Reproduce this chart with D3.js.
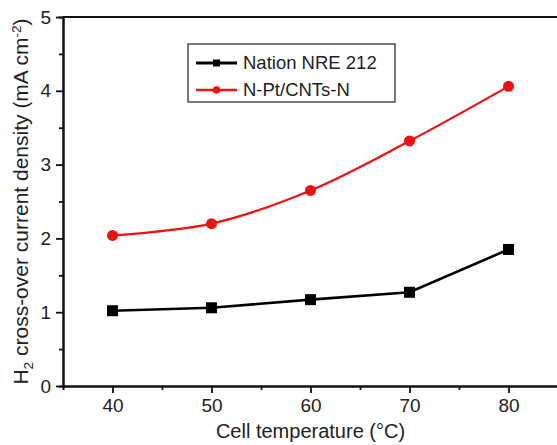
<!DOCTYPE html>
<html lang="en">
<head>
    <meta charset="UTF-8">
    <title>H2 cross-over</title>
    <script src="https://cdnjs.cloudflare.com/ajax/libs/d3/7.8.5/d3.min.js"></script>
    <style>
        body { margin: 0; background: #fff; }
        text { font-family: "Liberation Sans", Arial, sans-serif; fill: #222; }
    </style>
</head>
<body>
    <div id="wrapper"></div>
    <script>
        const temperatures = [40, 50, 60, 70, 80]
        const nafionValues = [1.02, 1.06, 1.17, 1.27, 1.85]
        const ptCntValues = [2.04, 2.20, 2.65, 3.32, 4.06]
        const seriesNames = ['Nation NRE 212', 'N-Pt/CNTs-N']
        const xTicks = [40, 50, 60, 70, 80]
        const yTicks = [0, 1, 2, 3, 4, 5]

        function drawChart() {
            const dimensions = {
                width: 557,
                height: 445,
                margin: { top: 17, right: 0, bottom: 59, left: 63 }
            }
            dimensions.boundedWidth = dimensions.width - dimensions.margin.left - dimensions.margin.right
            dimensions.boundedHeight = dimensions.height - dimensions.margin.top - dimensions.margin.bottom

            const svg = d3.select('#wrapper').append('svg')
                .attr('width', dimensions.width)
                .attr('height', dimensions.height)

            const bounds = svg.append('g')
                .attr('transform', `translate(${dimensions.margin.left},${dimensions.margin.top})`)

            const xScale = d3.scaleLinear()
                .domain([35, 85])
                .range([0, dimensions.boundedWidth + 1])

            const yScale = d3.scaleLinear()
                .domain([0, 5])
                .range([dimensions.boundedHeight, 0])

            // minor ticks
            const xMinor = bounds.append('g')
                .attr('transform', `translate(0,${dimensions.boundedHeight})`)
                .call(d3.axisBottom(xScale).tickValues([45, 55, 65, 75]).tickSize(4).tickFormat(''))
            const yMinor = bounds.append('g')
                .call(d3.axisLeft(yScale).tickValues([0.5, 1.5, 2.5, 3.5, 4.5]).tickSize(4).tickFormat(''))

            const xAxis = bounds.append('g')
                .attr('transform', `translate(0,${dimensions.boundedHeight})`)
                .call(d3.axisBottom(xScale).tickValues(xTicks).tickFormat(d3.format('d'))
                    .tickSize(7).tickPadding(6).tickSizeOuter(0))
            const yAxis = bounds.append('g')
                .call(d3.axisLeft(yScale).tickValues(yTicks).tickFormat(d3.format('d'))
                    .tickSize(7).tickPadding(5).tickSizeOuter(0))

            for (const ax of [xMinor, yMinor, xAxis, yAxis]) {
                ax.selectAll('path, line').attr('stroke', '#111').attr('stroke-width', 1.8)
                ax.select('.domain').attr('stroke-width', 2)
                ax.selectAll('text').style('font-size', '19px').attr('fill', '#222')
            }

            // top frame line
            bounds.append('line')
                .attr('x1', 0).attr('x2', dimensions.boundedWidth + 1)
                .attr('y1', 0).attr('y2', 0)
                .attr('stroke', '#111').attr('stroke-width', 2)

            const data = temperatures.map((t, i) => ({ t, a: nafionValues[i], b: ptCntValues[i] }))

            const blackLine = d3.line()
                .x(d => xScale(d.t))
                .y(d => yScale(d.a))
            const redLine = d3.line()
                .x(d => xScale(d.t))
                .y(d => yScale(d.b))
                .curve(d3.curveCatmullRom.alpha(0.5))

            bounds.append('path')
                .attr('d', blackLine(data))
                .attr('fill', 'none').attr('stroke', '#000').attr('stroke-width', 2.6)
            bounds.append('path')
                .attr('d', redLine(data))
                .attr('fill', 'none').attr('stroke', '#f01010').attr('stroke-width', 2.2)

            bounds.selectAll('.sq').data(data).join('rect')
                .attr('x', d => xScale(d.t) - 5.5)
                .attr('y', d => yScale(d.a) - 5.5)
                .attr('width', 11).attr('height', 11)
                .attr('fill', '#000')
            bounds.selectAll('.dot').data(data).join('circle')
                .attr('cx', d => xScale(d.t))
                .attr('cy', d => yScale(d.b))
                .attr('r', 5.5)
                .attr('fill', '#f01010')

            // legend
            const legend = svg.append('g').attr('transform', 'translate(188,44)')
            legend.append('rect')
                .attr('width', 207).attr('height', 58)
                .attr('fill', '#fff').attr('stroke', '#333').attr('stroke-width', 1.3)
            const lg = legend.selectAll('.item').data(seriesNames).join('g')
                .attr('transform', (d, i) => `translate(0,${19 + i * 27})`)
            lg.append('line')
                .attr('x1', 8).attr('x2', 49)
                .attr('stroke', (d, i) => i === 0 ? '#000' : '#f01010')
                .attr('stroke-width', (d, i) => i === 0 ? 3 : 2.4)
            lg.filter((d, i) => i === 0).append('rect')
                .attr('x', 25).attr('y', -3.5).attr('width', 7).attr('height', 7).attr('fill', '#000')
            lg.filter((d, i) => i === 1).append('circle')
                .attr('cx', 28.5).attr('r', 3.8).attr('fill', '#f01010')
            lg.append('text')
                .attr('x', 55).attr('dy', '0.35em')
                .style('font-size', '18.5px')
                .text(d => d)

            // axis titles
            svg.append('text')
                .attr('x', dimensions.margin.left + xScale(60))
                .attr('y', 438)
                .attr('text-anchor', 'middle')
                .style('font-size', '20px')
                .text('Cell temperature (°C)')

            const yTitle = svg.append('text')
                .attr('transform', `translate(28,${dimensions.margin.top + dimensions.boundedHeight / 2}) rotate(-90)`)
                .attr('text-anchor', 'middle')
                .style('font-size', '21px')
            yTitle.append('tspan').text('H')
            yTitle.append('tspan').attr('dy', 5).style('font-size', '13.5px').text('2')
            yTitle.append('tspan').attr('dy', -5).text(' cross-over current density (mA cm')
            yTitle.append('tspan').attr('dy', -7).style('font-size', '13.5px').text('-2')
            yTitle.append('tspan').attr('dy', 7).text(')')
        }

        drawChart()
    </script>
</body>
</html>
